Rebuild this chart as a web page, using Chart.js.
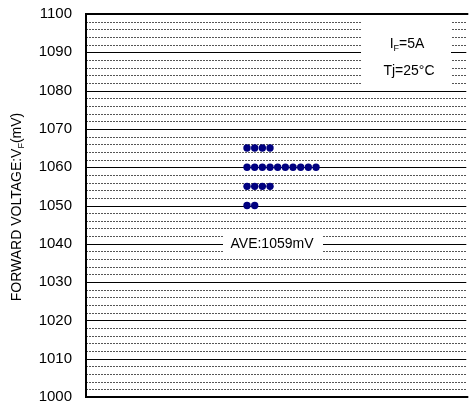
<!DOCTYPE html>
<html>
<head>
<meta charset="utf-8">
<script src="https://cdn.jsdelivr.net/npm/chart.js@4/dist/chart.umd.min.js"></script>
<style>
  html, body { margin: 0; padding: 0; background: #fff; }
  #wrap { width: 470px; height: 405px; }
</style>
</head>
<body>
<div id="wrap"><canvas id="vfChart"></canvas></div>
<script>
// Measured VF values (mV) and how many samples sit at each value
const vfLevels = [1065, 1060, 1055, 1050];
const vfCounts = [4, 10, 4, 2];
const firstColumn = 21;
const yTicks = [1000, 1010, 1020, 1030, 1040, 1050, 1060, 1070, 1080, 1090, 1100];
const condLines = ['IF=5A', 'Tj=25°C'];
const aveLabel = 'AVE:1059mV';
const yTitle = 'FORWARD VOLTAGE:VF(mV)';

const FONT = '"Liberation Sans", Arial, sans-serif';

// Build the stacked dot points, one column per sample
function buildPoints() {
    const pts = [];
    vfLevels.forEach(function(v, i) {
        for (let k = 0; k < vfCounts[i]; k++) {
            pts.push({ x: firstColumn + k, y: v });
        }
    });
    return pts;
}

// Draw text with a small subscript "F" after the given prefix
function drawSubText(ctx, prefix, sub, suffix, cx, cy, size) {
    const big = size + 'px ' + FONT;
    const small = Math.round(size * 0.62) + 'px ' + FONT;
    ctx.font = big;
    const w1 = ctx.measureText(prefix).width;
    const w3 = ctx.measureText(suffix).width;
    ctx.font = small;
    const w2 = ctx.measureText(sub).width;
    let x = cx - (w1 + w2 + w3) / 2;
    ctx.textAlign = 'left';
    ctx.textBaseline = 'middle';
    ctx.font = big;
    ctx.fillText(prefix, x, cy);
    x += w1;
    ctx.font = small;
    ctx.fillText(sub, x, cy + size * 0.3);
    x += w2;
    ctx.font = big;
    ctx.fillText(suffix, x, cy);
}

// Grid, note boxes and axis title
const decorPlugin = {
    id: 'decor',
    beforeDatasetsDraw(chart) {
        const ctx = chart.ctx;
        const area = chart.chartArea;
        const y = chart.scales.y;
        ctx.save();
        for (let v = y.min; v <= y.max; v += 2) {
            const py = Math.round(y.getPixelForValue(v)) + 0.5;
            ctx.beginPath();
            if (v % 10 === 0) {
                ctx.setLineDash([]);
                ctx.strokeStyle = '#000';
            } else {
                ctx.setLineDash([2, 1]);
                ctx.strokeStyle = '#555';
            }
            ctx.lineWidth = 1;
            ctx.moveTo(area.left, py);
            ctx.lineTo(area.right, py);
            ctx.stroke();
        }
        ctx.setLineDash([]);

        // condition box (top right)
        const b1Top = y.getPixelForValue(1100);
        const b1Bot = y.getPixelForValue(1081);
        ctx.fillStyle = '#fff';
        ctx.fillRect(361, b1Top, 90, b1Bot - b1Top);
        ctx.fillStyle = '#000';
        drawSubText(ctx, 'I', 'F', '=5A', 407, 44, 14);
        ctx.font = '14px ' + FONT;
        ctx.textAlign = 'center';
        ctx.textBaseline = 'middle';
        ctx.fillText(condLines[1], 409, 71);

        // average box
        const b2Top = y.getPixelForValue(1043);
        const b2Bot = y.getPixelForValue(1037);
        ctx.fillStyle = '#fff';
        ctx.fillRect(223, b2Top, 100, b2Bot - b2Top);
        ctx.fillStyle = '#000';
        ctx.font = '14px ' + FONT;
        ctx.textAlign = 'center';
        ctx.fillText(aveLabel, 272, y.getPixelForValue(1040));
        ctx.restore();
    },
    afterDatasetsDraw(chart) {
        const ctx = chart.ctx;
        const area = chart.chartArea;
        ctx.save();
        ctx.strokeStyle = '#000';
        ctx.lineWidth = 2;
        ctx.beginPath();
        ctx.moveTo(area.right + 2, area.top);
        ctx.lineTo(area.left, area.top);
        ctx.lineTo(area.left, area.bottom);
        ctx.lineTo(area.right + 2, area.bottom);
        ctx.stroke();

        // rotated y axis title with subscript F
        ctx.translate(17, 207);
        ctx.rotate(-Math.PI / 2);
        ctx.fillStyle = '#000';
        drawSubText(ctx, 'FORWARD VOLTAGE:V', 'F', '(mV)', 0, 0, 14);
        ctx.restore();
    }
};

document.addEventListener('DOMContentLoaded', function() {
    const ctx = document.getElementById('vfChart').getContext('2d');
    new Chart(ctx, {
        type: 'scatter',
        data: {
            datasets: [{
                data: buildPoints(),
                backgroundColor: '#000080',
                borderColor: '#000080',
                pointRadius: 3.7,
                pointHoverRadius: 3.7,
                borderWidth: 0
            }]
        },
        options: {
            responsive: true,
            maintainAspectRatio: false,
            animation: false,
            layout: { padding: { top: 14, bottom: 8, left: 0, right: 0 } },
            plugins: {
                legend: { display: false },
                tooltip: { enabled: false }
            },
            scales: {
                x: {
                    type: 'linear',
                    min: 0,
                    max: 49.6,
                    display: false
                },
                y: {
                    min: yTicks[0],
                    max: yTicks[yTicks.length - 1],
                    afterFit: function(s) {
                        s.width = 86;
                        s.paddingTop = 0;
                        s.paddingBottom = 0;
                    },
                    afterBuildTicks: function(s) {
                        s.ticks = yTicks.map(function(v) { return { value: v }; });
                    },
                    grid: { display: false, drawTicks: false },
                    border: { display: false },
                    ticks: {
                        padding: 14,
                        color: '#000',
                        font: { family: FONT, size: 15 },
                        callback: function(v) { return String(v); }
                    }
                }
            }
        },
        plugins: [decorPlugin]
    });
});
</script>
</body>
</html>
